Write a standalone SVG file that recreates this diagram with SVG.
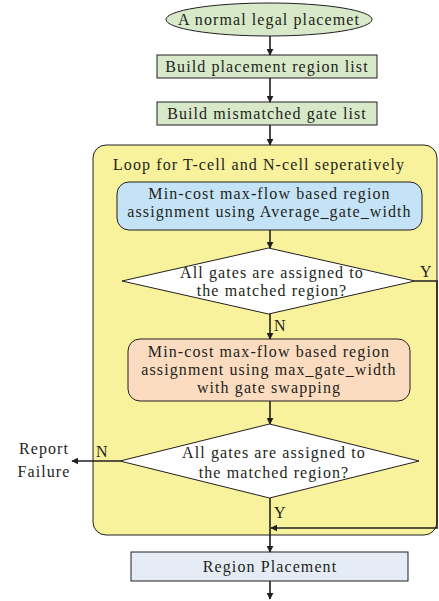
<svg xmlns="http://www.w3.org/2000/svg" width="439" height="601" viewBox="0 0 439 601">
<defs>
<style>
text{font-family:"Liberation Serif","Times New Roman",serif;font-size:16px;letter-spacing:1.1px;fill:#231f20}
.c{text-anchor:middle}
.s{stroke:#231f20;stroke-width:1}
.e{fill:none;stroke:#231f20;stroke-width:1.6}
</style>
<marker id="ah" viewBox="0 0 10 10" refX="9" refY="5" markerWidth="7" markerHeight="7" markerUnits="userSpaceOnUse" orient="auto"><path d="M0,0 L10,5 L0,10 z" fill="#231f20"/></marker>
</defs>
<rect width="439" height="601" fill="#fff"/>
<g id="loop"><rect class="s" x="93" y="145" width="344" height="390" rx="13" fill="#f7f29b"/>
<text x="113" y="170">Loop for T-cell and N-cell seperatively</text></g>
<g id="start"><ellipse class="s" cx="269" cy="19.5" rx="103" ry="16.5" fill="#d7e9c9"/><text class="c" x="269" y="25">A normal legal placemet</text></g>
<g id="build1"><rect class="s" x="157" y="55" width="220" height="23" fill="#d7e9c9"/><text class="c" x="267" y="72">Build placement region list</text></g>
<g id="build2"><rect class="s" x="157" y="102" width="220" height="23" fill="#d7e9c9"/><text class="c" x="267" y="119">Build mismatched gate list</text></g>
<g id="assign1"><rect class="s" x="117" y="182" width="305" height="48" rx="12" fill="#c5e3f6"/>
<text class="c" x="269.5" y="199">Min-cost max-flow based region</text><text class="c" x="269.5" y="217">assignment using Average_gate_width</text></g>
<g id="dec1"><polygon class="s" points="268.5,248 415,281 268.5,314 122,281" fill="#fff"/>
<text class="c" x="272" y="278">All gates are assigned to</text><text class="c" x="272" y="296">the matched region?</text></g>
<g id="assign2"><rect class="s" x="128" y="339" width="282" height="62" rx="12" fill="#fbdcc1"/>
<text class="c" x="269" y="357">Min-cost max-flow based region</text><text class="c" x="269" y="375">assignment using max_gate_width</text><text class="c" x="269" y="393">with gate swapping</text></g>
<g id="dec2"><polygon class="s" points="269.5,424 419,461 269.5,498 120,461" fill="#fff"/>
<text class="c" x="274" y="458">All gates are assigned to</text><text class="c" x="274" y="478">the matched region?</text></g>
<g id="fail"><text class="c" x="44" y="454">Report</text><text class="c" x="44" y="477">Failure</text></g>
<g id="region"><rect class="s" x="131" y="552" width="277" height="29" fill="#e5ecf6"/><text class="c" x="270" y="572">Region Placement</text></g>
<g id="connectors">
<line class="e" x1="270" y1="36" x2="270" y2="55" marker-end="url(#ah)"/>
<line class="e" x1="270" y1="78" x2="270" y2="102" marker-end="url(#ah)"/>
<line class="e" x1="270" y1="125" x2="270" y2="145" marker-end="url(#ah)"/>
<line class="e" x1="270" y1="230" x2="270" y2="248" marker-end="url(#ah)"/>
<line class="e" x1="270" y1="314" x2="270" y2="339" marker-end="url(#ah)"/>
<line class="e" x1="270" y1="401" x2="270" y2="424" marker-end="url(#ah)"/>
<line class="e" x1="270" y1="498" x2="270" y2="552" marker-end="url(#ah)"/>
<line class="e" x1="270" y1="581" x2="270" y2="599" marker-end="url(#ah)"/>
<polyline class="e" points="415,281 437,281 437,528 271,528" marker-end="url(#ah)"/>
<line class="e" x1="120" y1="461" x2="72" y2="461" marker-end="url(#ah)"/>
<text x="420" y="277">Y</text>
<text x="274" y="331">N</text>
<text x="96" y="457">N</text>
<text x="274" y="518">Y</text>
</g>
</svg>
